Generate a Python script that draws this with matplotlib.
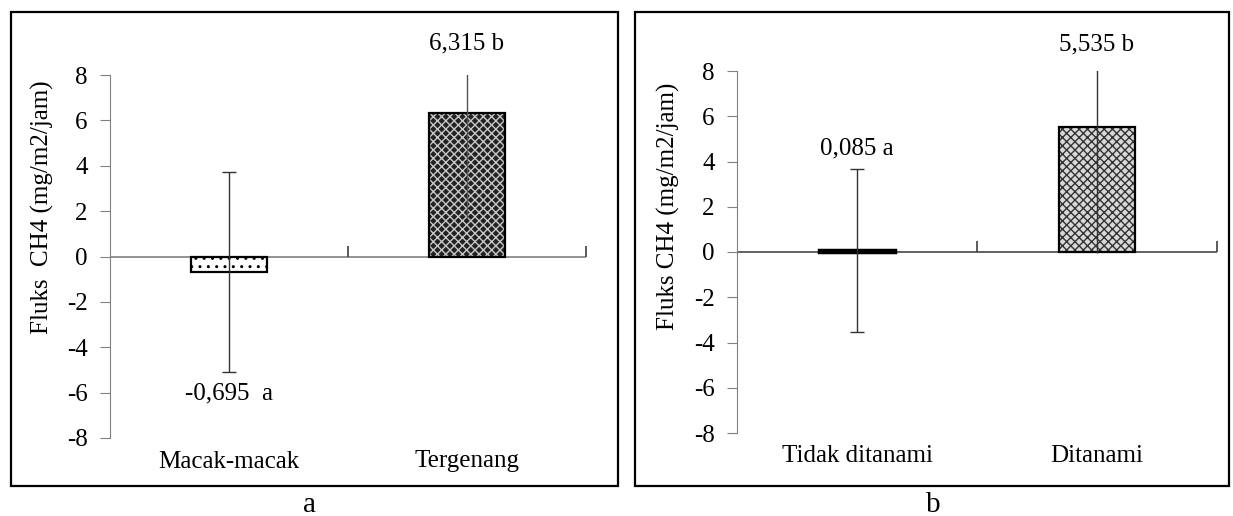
import matplotlib
matplotlib.use("Agg")
import matplotlib.pyplot as plt
from matplotlib.patches import Rectangle
from matplotlib.markers import TICKUP

plt.rcParams["font.family"] = ["Liberation Serif", "DejaVu Serif"]
plt.rcParams["hatch.linewidth"] = 1.0

# panel a : pengairan
cats_a = ["Macak-macak", "Tergenang"]
vals_a = [-0.695, 6.315]
err_a = [4.4, 4.6]
lbl_a = ["-0,695  a", "6,315 b"]

# panel b : tanaman
cats_b = ["Tidak ditanami", "Ditanami"]
vals_b = [0.085, 5.535]
err_b = [3.6, 5.6]
lbl_b = ["0,085 a", "5,535 b"]

yticks = [-8, -6, -4, -2, 0, 2, 4, 6, 8]
FS = 18
W = 0.32

fig = plt.figure(figsize=(12.33, 5.16), dpi=100)

# cadres
for x0, x1 in [(11, 618), (635, 1229)]:
    fig.add_artist(Rectangle((x0 / 1233, 30 / 516), (x1 - x0) / 1233, 474 / 516,
                             transform=fig.transFigure, fill=False, lw=1.6, ec="black"))

axA = fig.add_axes([110 / 1233, 78 / 516, 476 / 1233, 363 / 516])
axB = fig.add_axes([737 / 1233, 83 / 516, 480 / 1233, 362 / 516])


def style(ax, cats, zcol, ylab, ly):
    ax.set_xlim(-0.5, 1.5)
    ax.set_ylim(-8, 8)
    ax.set_yticks(yticks)
    ax.set_yticklabels([str(t) for t in yticks], fontsize=FS)
    ax.set_xticks(range(len(cats)))
    ax.set_xticklabels(cats, fontsize=FS)
    ax.tick_params(axis="x", length=0, pad=9)
    ax.tick_params(axis="y", direction="out", length=7, color="#808080", pad=9)
    for s in ["top", "right", "bottom"]:
        ax.spines[s].set_visible(False)
    ax.spines["left"].set_color("#808080")
    ax.axhline(0, color=zcol, lw=1.3, zorder=1)
    ax.plot([0.5, 1.5], [0, 0], ls="none", marker=TICKUP, ms=8, mew=1.2, color="#404040",
            clip_on=False, zorder=1)
    ax.set_ylabel(ylab, fontsize=FS)
    ax.yaxis.set_label_coords(-0.118, ly)


style(axA, cats_a, "#8a8a8a", "Fluks  CH4 (mg/m2/jam)", 0.635)
style(axB, cats_b, "#555555", "Fluks CH4 (mg/m2/jam)", 0.625)

# panel a bars
axA.bar(0, vals_a[0], W, color="white", ec="black", hatch="..", lw=0, zorder=2)
axA.bar(0, vals_a[0], W, fill=False, ec="black", lw=1.6, zorder=3)
axA.bar(1, vals_a[1], W, color="#222222", ec="#c8c8c8", hatch="xxxx", lw=0, zorder=2)
axA.bar(1, vals_a[1], W, fill=False, ec="black", lw=1.6, zorder=3)
axA.errorbar([0], [vals_a[0]], yerr=[err_a[0]], fmt="none", ecolor="#333333",
             elinewidth=1, capsize=5, capthick=1, zorder=4)
axA.errorbar([1], [vals_a[1]], yerr=[err_a[1]], fmt="none", ecolor="#555555",
             elinewidth=1, capsize=0, zorder=4)

# panel b bars
axB.bar(0, vals_b[0], W, color="black", ec="black", lw=2.5, zorder=3)
axB.bar(1, vals_b[1], W, color="#d8d8d8", ec="#333333", hatch="////\\\\\\\\", lw=0, zorder=2)
axB.bar(1, vals_b[1], W, fill=False, ec="black", lw=1.6, zorder=3)
axB.errorbar([0], [vals_b[0]], yerr=[err_b[0]], fmt="none", ecolor="#333333",
             elinewidth=1, capsize=5, capthick=1, zorder=4)
axB.errorbar([1], [vals_b[1]], yerr=[err_b[1]], fmt="none", ecolor="#333333",
             elinewidth=1, capsize=0, zorder=4)

# etiquettes
axA.text(0, vals_a[0] - err_a[0] - 0.95, lbl_a[0], ha="center", va="center", fontsize=FS)
axA.text(1, 9.4, lbl_a[1], ha="center", va="center", fontsize=FS, clip_on=False)
axB.text(0, vals_b[0] + err_b[0] + 0.9, lbl_b[0], ha="center", va="center", fontsize=FS)
axB.text(1, 9.16, lbl_b[1], ha="center", va="center", fontsize=FS, clip_on=False)

fig.text(310 / 1233, 1 - 505 / 516, "a", ha="center", va="center", fontsize=21)
fig.text(933 / 1233, 1 - 505 / 516, "b", ha="center", va="center", fontsize=21)

fig.savefig("out.png", dpi=100, facecolor="white")
